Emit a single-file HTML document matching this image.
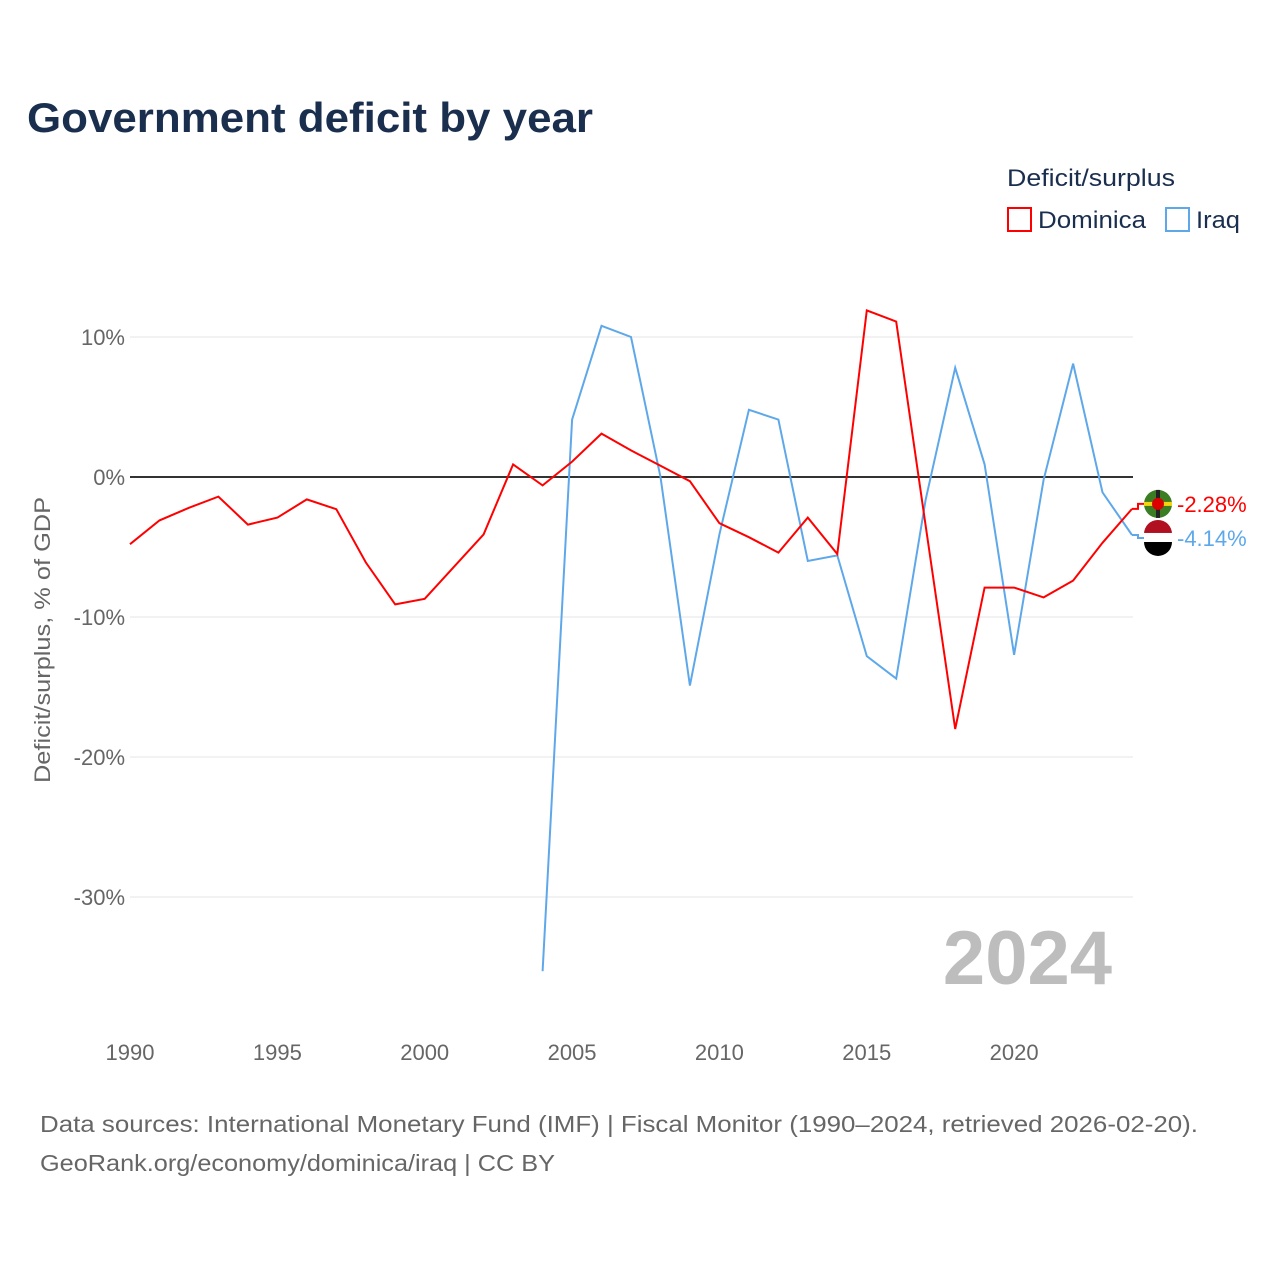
<!DOCTYPE html>
<html><head><meta charset="utf-8"><style>
body{margin:0;background:#fff;font-family:"Liberation Sans",sans-serif}
</style></head><body>
<svg id="chart" width="1280" height="1280" xmlns="http://www.w3.org/2000/svg" style="font-family:'Liberation Sans',sans-serif">
<rect width="1280" height="1280" fill="#fff"/>
<text x="27" y="132" font-size="42" font-weight="bold" fill="#1a2e4e" textLength="566" lengthAdjust="spacingAndGlyphs">Government deficit by year</text>
<text x="1007" y="186" font-size="24" fill="#1a2e4e" textLength="168" lengthAdjust="spacingAndGlyphs">Deficit/surplus</text>
<g><rect x="1008" y="208" width="23" height="23" fill="none" stroke="#f00" stroke-width="2"/><text x="1038" y="228" font-size="24" fill="#1a2e4e" textLength="108" lengthAdjust="spacingAndGlyphs">Dominica</text></g>
<g><rect x="1166" y="208" width="23" height="23" fill="none" stroke="#5ea8ea" stroke-width="2"/><text x="1196" y="228" font-size="24" fill="#1a2e4e" textLength="44" lengthAdjust="spacingAndGlyphs">Iraq</text></g>
<text transform="translate(50,640) rotate(-90)" text-anchor="middle" font-size="22" fill="#666" textLength="286" lengthAdjust="spacingAndGlyphs">Deficit/surplus, % of GDP</text>
<g id="grid"></g><g id="series"></g>
<text x="1112" y="984" text-anchor="end" font-size="76" font-weight="bold" fill="#bdbdbd">2024</text>
<text x="40" y="1132" font-size="23" fill="#666" textLength="1158" lengthAdjust="spacingAndGlyphs">Data sources: International Monetary Fund (IMF) | Fiscal Monitor (1990–2024, retrieved 2026-02-20).</text>
<text x="40" y="1171" font-size="23" fill="#666" textLength="515" lengthAdjust="spacingAndGlyphs">GeoRank.org/economy/dominica/iraq | CC BY</text>
</svg>
<script>
const years=[];for(let y=1990;y<=2024;y++)years.push(y);
const dominica=[-4.8,-3.1,-2.2,-1.4,-3.4,-2.9,-1.6,-2.3,-6.1,-9.1,-8.7,-6.4,-4.1,0.9,-0.6,1.1,3.1,1.9,0.8,-0.3,-3.3,-4.3,-5.4,-2.9,-5.5,11.9,11.1,-3.5,-18,-7.9,-7.9,-8.6,-7.4,-4.7,-2.28];
const iraq=[null,null,null,null,null,null,null,null,null,null,null,null,null,null,-35.3,4.1,10.8,10.0,0,-14.9,-4.1,4.8,4.1,-6.0,-5.6,-12.8,-14.4,-1.6,7.8,0.9,-12.7,-0.2,8.1,-1.1,-4.14];
const yTicks=[10,0,-10,-20,-30];
const xTicks=[1990,1995,2000,2005,2010,2015,2020];
const NS="http://www.w3.org/2000/svg";
const X=v=>130+(v-1990)*(1002/34);
const Y=v=>477-v*14;
function el(t,a,p){const e=document.createElementNS(NS,t);for(const k in a)e.setAttribute(k,a[k]);p.appendChild(e);return e;}
const g=document.getElementById('grid'),s=document.getElementById('series');
yTicks.forEach(t=>{
 const l=el('line',{x1:130,x2:1133,y1:Y(t),y2:Y(t),stroke:t===0?'#333':'#e6e6e6','stroke-width':t===0?2:1},g);
 
 
 const tx=el('text',{x:125,y:Y(t)+8,'text-anchor':'end','font-size':22,fill:'#666'},g);tx.textContent=t+'%';
 
 
});
xTicks.forEach(t=>{
 const tx=el('text',{x:X(t),y:1060,'text-anchor':'middle','font-size':22,fill:'#666'},g);tx.textContent=t;
 
 
});
function line(vals,color,name){
 let d='';vals.forEach((v,i)=>{if(v===null)return;d+=(d?'L':'M')+X(years[i]).toFixed(1)+','+Y(v).toFixed(1);});
 const p=el('path',{d:d,fill:'none',stroke:color,'stroke-width':2},s);
 
 
}
line(iraq,'#5ea8ea','series-line-iraq');
line(dominica,'#f00','series-line-dominica');
const last=years.length-1;
const dy=Y(dominica[last]),iy=Y(iraq[last]);
const dl=dy-5, il=iy+3;
el('path',{d:`M${X(2024)},${dy}H1138V${dl}H1146`,fill:'none',stroke:'#f00','stroke-width':2},s);
el('path',{d:`M${X(2024)},${iy}H1138V${il}H1146`,fill:'none',stroke:'#5ea8ea','stroke-width':2},s);
const fd=el('g',{},s);


el('circle',{cx:1158,cy:dl,r:14,fill:'#3a7d22'},fd);
el('rect',{x:1144,y:dl-2,width:28,height:4,fill:'#f5d313'},fd);
el('rect',{x:1156,y:dl-14,width:4,height:28,fill:'#222'},fd);
el('circle',{cx:1158,cy:dl,r:6,fill:'#d00'},fd);
const fi=el('g',{},s);


el('path',{d:`M1144,${il-4}A14,14 0 0 1 1172,${il-4}Z`,fill:'#b01020'},fi);
el('rect',{x:1144,y:il-5,width:28,height:10,fill:'#fff'},fi);
el('path',{d:`M1144,${il+4}A14,14 0 0 0 1172,${il+4}Z`,fill:'#000'},fi);
const ld=el('text',{x:1177,y:dl+8,'font-size':22,fill:'#f00'},s);ld.textContent=dominica[last].toFixed(2)+'%';


const li=el('text',{x:1177,y:il+8,'font-size':22,fill:'#5ea8ea'},s);li.textContent=iraq[last].toFixed(2)+'%';


</script>
</body></html>
